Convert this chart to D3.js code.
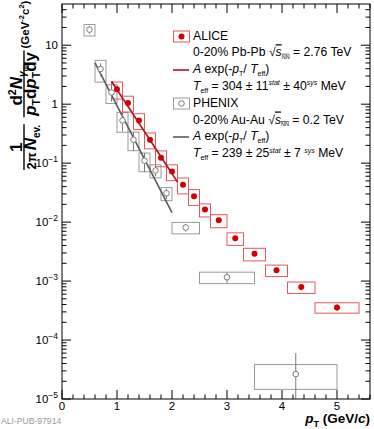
<!DOCTYPE html>
<html>
<head>
<meta charset="utf-8">
<script src="https://cdn.jsdelivr.net/npm/d3@7"></script>
<style>
body { margin: 0; background: #fff; }
svg text { font-family: "Liberation Sans", Arial, Helvetica, sans-serif; }
</style>
</head>
<body>
<svg id="chart" width="374" height="429"></svg>
<script>
// ALICE 0-20% Pb-Pb, direct photon invariant yield
const aliceX = [1.0, 1.2, 1.4, 1.6, 1.8, 2.0, 2.2, 2.4, 2.6, 2.85, 3.15, 3.5, 3.9, 4.35, 5.0];
const aliceEdges = [0.9, 1.1, 1.3, 1.5, 1.7, 1.9, 2.1, 2.3, 2.5, 2.7, 3.0, 3.3, 3.7, 4.1, 4.6, 5.4];
const aliceY = [1.80, 1.05, 0.53, 0.25, 0.124, 0.072, 0.043, 0.0274, 0.0163, 0.0107, 0.0053, 0.0029, 0.00153, 0.00079, 0.000357];
const aliceStat = [0.1, 0.08, 0.07, 0.06, 0.06, 0.06, 0.06, 0.06, 0.06, 0.07, 0.07, 0.08, 0.1, 0.12, 0.12];
const aliceSys = [0.32, 0.3, 0.3, 0.3, 0.3, 0.3, 0.3, 0.3, 0.25, 0.25, 0.24, 0.24, 0.22, 0.22, 0.2];

// PHENIX 0-20% Au-Au
const phenixX = [0.5, 0.7, 0.9, 1.1, 1.3, 1.5, 1.7, 1.9, 2.25, 3.0, 4.25];
const phenixLo = [0.4, 0.6, 0.8, 1.0, 1.2, 1.4, 1.6, 1.8, 2.0, 2.5, 3.5];
const phenixHi = [0.6, 0.8, 1.0, 1.2, 1.4, 1.6, 1.8, 2.0, 2.5, 3.5, 5.0];
const phenixY = [18.4, 3.95, 1.58, 0.53, 0.25, 0.11, 0.075, 0.0308, 0.0081, 0.00116, 2.65e-5];
const phenixStat = [0.15, 0.25, 0.3, 0.35, 0.35, 0.35, 0.2, 0.2, 0.15, 0.2, 1.28];
const phenixSys = [0.22, 0.4, 0.35, 0.37, 0.35, 0.35, 0.25, 0.25, 0.22, 0.22, 0.45];

// exponential fits (straight lines on log scale), end points
const aliceFitX = [0.9, 2.1];
const aliceFitY = [2.45, 0.048];
const phenixFitX = [0.6, 2.0];
const phenixFitY = [5.0, 0.0145];

const xMajor = [0, 1, 2, 3, 4, 5];
const yExp = [-5, -4, -3, -2, -1, 0, 1];

const red = "#d10000", redBox = "#e8575a", redLine = "#b0141a";
const grey = "#7a7a7a", greyBox = "#9a9a9a", greyLine = "#5a5a5a";

const svg = d3.select("#chart");
const mLeft = 62, mRight = 370, mTop = 4, mBottom = 399;

const x = d3.scaleLinear().domain([0, 5.6]).range([mLeft, mRight]);
const y = d3.scaleLog().domain([1e-5, 50]).range([mBottom, mTop]);

// text with sub/superscripts
function rich(sel, parts) {
    let cur = 0;
    parts.forEach(p => {
        const off = p.off || 0;
        const ts = sel.append("tspan").text(p.t).attr("dy", off - cur);
        cur = off;
        if (p.dx) ts.attr("dx", p.dx);
        if (p.fs) ts.attr("font-size", p.fs);
        if (p.it) ts.attr("font-style", "italic");
        if (p.ol) ts.attr("text-decoration", "overline");
    });
    return sel;
}

svg.append("defs").append("clipPath").attr("id", "plot")
    .append("rect").attr("x", mLeft).attr("y", mTop)
    .attr("width", mRight - mLeft).attr("height", mBottom - mTop);

const plot = svg.append("g").attr("clip-path", "url(#plot)");

// PHENIX sys boxes
plot.selectAll("rect.pbox")
    .data(phenixX)
    .enter()
    .append("rect")
    .attr("class", "pbox")
    .attr("x", (d, i) => x(phenixLo[i]))
    .attr("width", (d, i) => x(phenixHi[i]) - x(phenixLo[i]))
    .attr("y", (d, i) => y(phenixY[i] * (1 + phenixSys[i])))
    .attr("height", (d, i) => y(phenixY[i] * (1 - phenixSys[i])) - y(phenixY[i] * (1 + phenixSys[i])))
    .attr("fill", "none")
    .attr("stroke", greyBox)
    .attr("stroke-width", 1);

// ALICE sys boxes
plot.selectAll("rect.abox")
    .data(aliceX)
    .enter()
    .append("rect")
    .attr("class", "abox")
    .attr("x", (d, i) => x(aliceEdges[i]))
    .attr("width", (d, i) => x(aliceEdges[i + 1]) - x(aliceEdges[i]))
    .attr("y", (d, i) => y(aliceY[i] * (1 + aliceSys[i])))
    .attr("height", (d, i) => y(aliceY[i] * (1 - aliceSys[i])) - y(aliceY[i] * (1 + aliceSys[i])))
    .attr("fill", "none")
    .attr("stroke", redBox)
    .attr("stroke-width", 1);

// fits
const line = d3.line().x(d => x(d[0])).y(d => y(d[1]));
plot.append("path")
    .attr("d", line(phenixFitX.map((v, i) => [v, phenixFitY[i]])))
    .attr("stroke", greyLine).attr("stroke-width", 1.6).attr("fill", "none");
plot.append("path")
    .attr("d", line(aliceFitX.map((v, i) => [v, aliceFitY[i]])))
    .attr("stroke", redLine).attr("stroke-width", 1.6).attr("fill", "none");

// PHENIX stat errors + markers
plot.selectAll("line.pstat")
    .data(phenixX)
    .enter()
    .append("line")
    .attr("x1", d => x(d)).attr("x2", d => x(d))
    .attr("y1", (d, i) => y(phenixY[i] * (1 + phenixStat[i])))
    .attr("y2", (d, i) => phenixStat[i] >= 1 ? mBottom + 5 : y(phenixY[i] * (1 - phenixStat[i])))
    .attr("stroke", grey).attr("stroke-width", 1);
plot.selectAll("circle.pt")
    .data(phenixX)
    .enter()
    .append("circle")
    .attr("cx", d => x(d))
    .attr("cy", (d, i) => y(phenixY[i]))
    .attr("r", 2.8)
    .attr("fill", "#fff")
    .attr("stroke", grey)
    .attr("stroke-width", 1);

// ALICE stat errors + markers
plot.selectAll("line.astat")
    .data(aliceX)
    .enter()
    .append("line")
    .attr("x1", d => x(d)).attr("x2", d => x(d))
    .attr("y1", (d, i) => y(aliceY[i] * (1 + aliceStat[i])))
    .attr("y2", (d, i) => y(aliceY[i] * (1 - aliceStat[i])))
    .attr("stroke", red).attr("stroke-width", 1);
plot.selectAll("circle.at")
    .data(aliceX)
    .enter()
    .append("circle")
    .attr("cx", d => x(d))
    .attr("cy", (d, i) => y(aliceY[i]))
    .attr("r", 3)
    .attr("fill", red);

// frame + ticks
svg.append("rect")
    .attr("x", mLeft).attr("y", mTop)
    .attr("width", mRight - mLeft).attr("height", mBottom - mTop)
    .attr("fill", "none").attr("stroke", "#000").attr("stroke-width", 1);

const xMinor = d3.range(0, 5.61, 0.2).filter(v => Math.abs(v - Math.round(v)) > 0.01);
const yMinor = [];
yExp.forEach(e => { for (let k = 2; k <= 9; k++) { const v = k * Math.pow(10, e); if (v < 50) yMinor.push(v); } });
const yMajor = yExp.map(e => Math.pow(10, e));

const ticks = svg.append("g").attr("stroke", "#000").attr("stroke-width", 1);
function xTicks(vals, len) {
    vals.forEach(v => {
        ticks.append("line").attr("x1", x(v)).attr("x2", x(v)).attr("y1", mBottom).attr("y2", mBottom - len);
        ticks.append("line").attr("x1", x(v)).attr("x2", x(v)).attr("y1", mTop).attr("y2", mTop + len);
    });
}
function yTicks(vals, len) {
    vals.forEach(v => {
        ticks.append("line").attr("y1", y(v)).attr("y2", y(v)).attr("x1", mLeft).attr("x2", mLeft + len);
        ticks.append("line").attr("y1", y(v)).attr("y2", y(v)).attr("x1", mRight).attr("x2", mRight - len);
    });
}
xTicks(xMajor, 9);
xTicks(xMinor, 4.5);
yTicks(yMajor, 9);
yTicks(yMinor, 4.5);

// tick labels
svg.selectAll("text.xl")
    .data(xMajor)
    .enter()
    .append("text")
    .attr("x", d => x(d))
    .attr("y", 409.5)
    .attr("text-anchor", "middle")
    .attr("font-size", 11.5)
    .text(d => d);

yExp.forEach(e => {
    const t = svg.append("text")
        .attr("x", 58)
        .attr("y", y(Math.pow(10, e)) + 4)
        .attr("text-anchor", "end")
        .attr("font-size", 11.5);
    if (e === 0) t.text("1");
    else if (e === 1) t.text("10");
    else rich(t, [{ t: "10" }, { t: String(e).replace("-", "\u2212"), off: -5, fs: 8.5 }]);
});

// axis titles
rich(svg.append("text")
    .attr("x", 370).attr("y", 423)
    .attr("text-anchor", "end")
    .attr("font-size", 13.5).attr("font-weight", "bold"),
    [{ t: "p", it: 1 }, { t: "T", off: 3.5, fs: 9 }, { t: " (GeV/" }, { t: "c", it: 1 }, { t: ")" }]);

// y title: rotated, built from two fractions and the unit
const yl = svg.append("g")
    .attr("transform", "translate(24,170) rotate(-90)")
    .attr("font-weight", "bold");
function fraction(start, numParts, denParts, fs) {
    const num = rich(yl.append("text").attr("y", -2.5).attr("text-anchor", "middle").attr("font-size", fs), numParts);
    const den = rich(yl.append("text").attr("y", 12).attr("text-anchor", "middle").attr("font-size", fs), denParts);
    const w = Math.max(num.node().getComputedTextLength(), den.node().getComputedTextLength()) + 3;
    num.attr("x", start + w / 2);
    den.attr("x", start + w / 2);
    yl.append("line").attr("x1", start).attr("x2", start + w).attr("y1", 0).attr("y2", 0)
        .attr("stroke", "#000").attr("stroke-width", 1.4);
    return start + w;
}
let pos = fraction(0,
    [{ t: "1" }],
    [{ t: "2π", fs: 13 }, { t: "N", it: 1, dx: 2 }, { t: "ev.", off: 4, fs: 10 }], 17);
pos = fraction(pos + 7,
    [{ t: "d" }, { t: "2", off: -6, fs: 10.5 }, { t: "N", it: 1 }, { t: "γ", off: 4, fs: 10.5, it: 1 }, { t: "dir", off: 6.5, fs: 7 }],
    [{ t: "p", it: 1 }, { t: "T", off: 4, fs: 10.5 }, { t: "d" }, { t: "p", it: 1 }, { t: "T", off: 4, fs: 10.5 }, { t: "dy" }], 17);
rich(yl.append("text").attr("x", pos + 2).attr("y", 5).attr("font-size", 11.5),
    [{ t: "(GeV" }, { t: "-2", off: -5, fs: 7.5 }, { t: "c" }, { t: "2", off: -5, fs: 7.5 }, { t: ")" }]);

// legend
const lg = svg.append("g").attr("font-size", 12.2);
const lx = 193, l0 = 39.5, ls = 16.8;
lg.append("rect").attr("x", 173.5).attr("y", 31).attr("width", 16).attr("height", 11)
    .attr("fill", "none").attr("stroke", redBox);
lg.append("circle").attr("cx", 181.5).attr("cy", 36.5).attr("r", 3).attr("fill", red);
lg.append("line").attr("x1", 173).attr("x2", 189).attr("y1", 70).attr("y2", 70)
    .attr("stroke", redLine).attr("stroke-width", 1.6);
lg.append("rect").attr("x", 173.5).attr("y", 98).attr("width", 16).attr("height", 11)
    .attr("fill", "none").attr("stroke", greyBox);
lg.append("circle").attr("cx", 181.5).attr("cy", 103.5).attr("r", 2.8)
    .attr("fill", "#fff").attr("stroke", grey);
lg.append("line").attr("x1", 173).attr("x2", 189).attr("y1", 137).attr("y2", 137)
    .attr("stroke", greyLine).attr("stroke-width", 1.6);

const legendText = [
    [{ t: "ALICE" }],
    [{ t: "0-20% Pb-Pb " }, { t: "√" }, { t: "s", it: 1, ol: 1 }, { t: "NN", off: 2.5, fs: 5.5, ol: 1 }, { t: " = 2.76 TeV" }],
    [{ t: "A", it: 1 }, { t: " exp(-" }, { t: "p", it: 1 }, { t: "T", off: 3, fs: 7 }, { t: "/ " }, { t: "T", it: 1 }, { t: "eff", off: 3, fs: 7 }, { t: ")" }],
    [{ t: "T", it: 1 }, { t: "eff", off: 3, fs: 7 }, { t: " = 304 ± 11" }, { t: "stat", off: -4.5, fs: 7, it: 1 }, { t: " ± 40" }, { t: "sys", off: -4.5, fs: 7, it: 1 }, { t: " MeV" }],
    [{ t: "PHENIX" }],
    [{ t: "0-20% Au-Au " }, { t: "√" }, { t: "s", it: 1, ol: 1 }, { t: "NN", off: 2.5, fs: 5.5, ol: 1 }, { t: " = 0.2 TeV" }],
    [{ t: "A", it: 1 }, { t: " exp(-" }, { t: "p", it: 1 }, { t: "T", off: 3, fs: 7 }, { t: "/ " }, { t: "T", it: 1 }, { t: "eff", off: 3, fs: 7 }, { t: ")" }],
    [{ t: "T", it: 1 }, { t: "eff", off: 3, fs: 7 }, { t: " = 239 ± 25" }, { t: "stat", off: -4.5, fs: 7, it: 1 }, { t: " ± 7 " }, { t: "sys", off: -4.5, fs: 7, it: 1 }, { t: " MeV" }]
];
legendText.forEach((parts, i) => {
    rich(lg.append("text").attr("x", lx).attr("y", l0 + i * ls), parts);
});

svg.append("text")
    .attr("x", 1).attr("y", 424)
    .attr("font-family", "'Liberation Mono', 'DejaVu Sans Mono', monospace")
    .attr("font-size", 8.6)
    .attr("fill", "#9a9a9a")
    .text("ALI-PUB-97914");
</script>
</body>
</html>
